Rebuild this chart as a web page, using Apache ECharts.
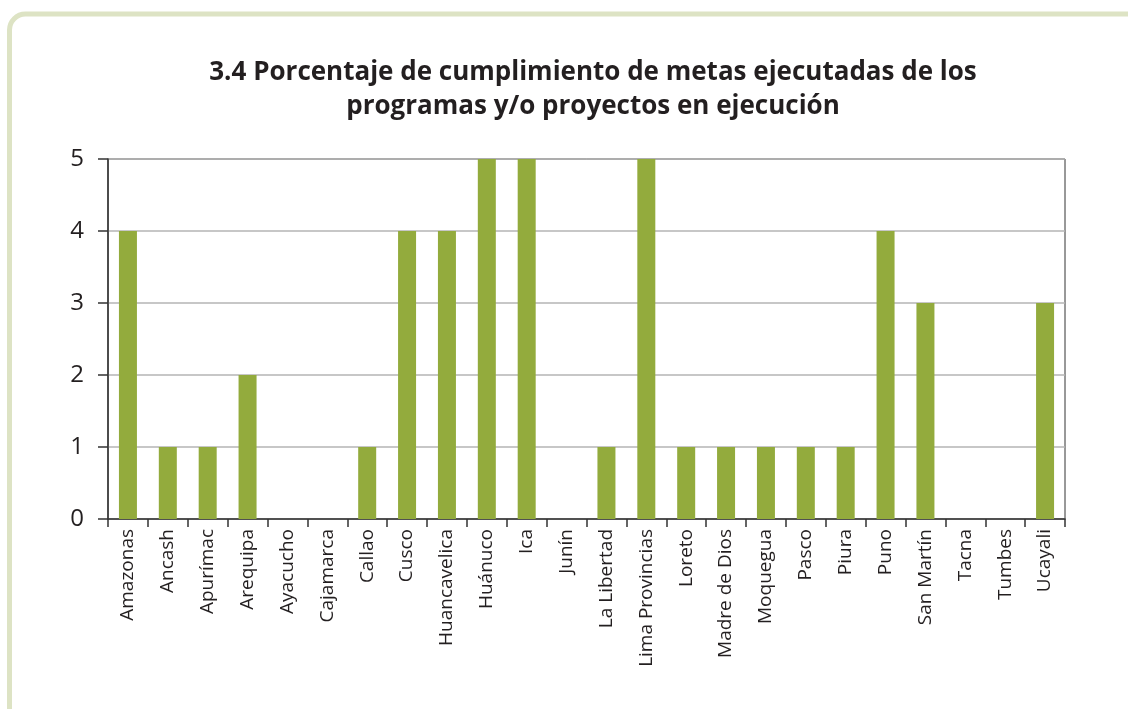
<!DOCTYPE html>
<html>
<head>
<meta charset="utf-8">
<script src="https://cdn.jsdelivr.net/npm/echarts@6/dist/echarts.min.js"></script>
<style>
  html, body { margin: 0; padding: 0; background: #fff; }
  #chart { width: 1128px; height: 709px; }
</style>
</head>
<body>
<div id="chart"></div>
<script>
// regiones y numero de metas
var regiones = ['Amazonas', 'Ancash', 'Apurímac', 'Arequipa', 'Ayacucho', 'Cajamarca', 'Callao', 'Cusco',
  'Huancavelica', 'Huánuco', 'Ica', 'Junín', 'La Libertad', 'Lima Provincias', 'Loreto', 'Madre de Dios',
  'Moquegua', 'Pasco', 'Piura', 'Puno', 'San Martín', 'Tacna', 'Tumbes', 'Ucayali'];
var valores = [4, 1, 1, 2, 0, 0, 1, 4, 4, 5, 5, 0, 1, 5, 1, 1, 1, 1, 1, 4, 3, 0, 0, 3];
var titulo = '3.4 Porcentaje de cumplimiento de metas ejecutadas de los\nprogramas y/o proyectos en ejecución';

var myChart = echarts.init(document.getElementById('chart'));

var option = {
  backgroundColor: '#fff',
  textStyle: { fontFamily: 'Open Sans' },
  graphic: [{
    type: 'rect',
    shape: { x: 9.5, y: 14, width: 1400, height: 900, r: 16 },
    style: { fill: 'none', stroke: '#dde3c4', lineWidth: 5 },
    silent: true
  }],
  title: {
    text: titulo,
    left: 588,
    textAlign: 'center',
    top: 51,
    textStyle: { fontSize: 26, fontWeight: 'bold', color: '#231f20', lineHeight: 34, fontFamily: 'Open Sans' }
  },
  grid: {
    left: 108, right: 63, top: 159, bottom: 190,
    show: true, borderColor: '#333', borderWidth: 1
  },
  xAxis: {
    type: 'category',
    data: regiones,
    boundaryGap: true,
    axisLine: { lineStyle: { color: '#333', width: 1.5 } },
    axisTick: { show: true, length: 8, lineStyle: { color: '#333', width: 1.5 } },
    axisLabel: { rotate: 90, interval: 0, fontSize: 19, color: '#231f20', margin: 10 },
    splitLine: { show: false }
  },
  yAxis: {
    type: 'value',
    min: 0, max: 5, interval: 1,
    axisLine: { show: true, lineStyle: { color: '#333', width: 1.5 } },
    axisTick: { show: true, length: 10, lineStyle: { color: '#333', width: 1.5 } },
    axisLabel: { fontSize: 24, color: '#231f20', margin: 24 },
    splitLine: { lineStyle: { color: '#b4b4b4', width: 1.5 } }
  },
  series: [{
    type: 'bar',
    data: valores,
    barWidth: 18,
    itemStyle: { color: '#93ab3d' }
  }]
};

myChart.setOption(option);
</script>
</body>
</html>
